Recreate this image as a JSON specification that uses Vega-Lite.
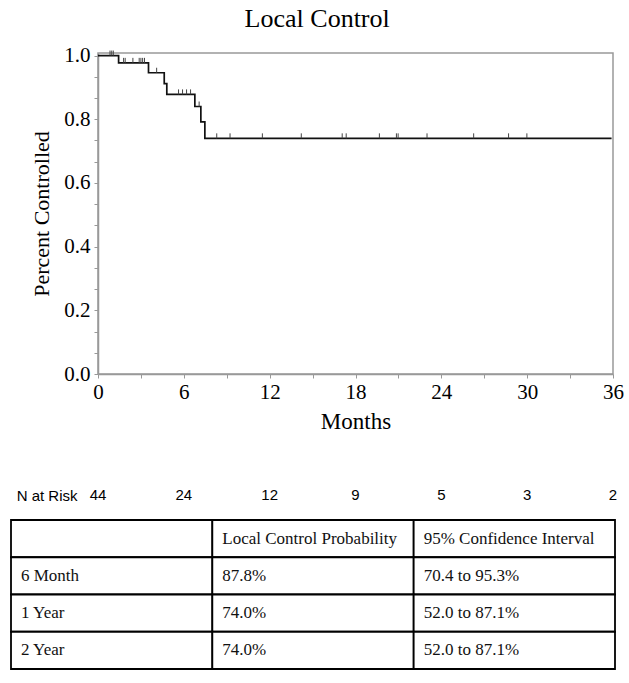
{
  "$schema": "https://vega.github.io/schema/vega-lite/v6.json",
  "padding": {"left": 10, "top": 5, "right": 5, "bottom": 5},
  "title": {"text": "Local Control", "font": "Liberation Serif", "fontSize": 26, "fontWeight": "normal", "color": "#000", "anchor": "middle", "frame": "bounds", "offset": 12},
  "config": {"view": {"stroke": null}, "font": "Liberation Serif", "axis": {"labelOverlap": false, "labelFlush": false}},
  "spacing": 16,
  "resolve": {"scale": {"x": "independent", "y": "independent"}},
  "datasets": {
    "km": [
      {"months": 0, "surv": 1.0},
      {"months": 1.44, "surv": 0.977},
      {"months": 3.53, "surv": 0.946},
      {"months": 4.63, "surv": 0.912},
      {"months": 4.81, "surv": 0.878},
      {"months": 6.77, "surv": 0.84},
      {"months": 7.19, "surv": 0.792},
      {"months": 7.47, "surv": 0.74},
      {"months": 35.9, "surv": 0.74}
    ],
    "censored": [
      {"months": 0.84, "surv": 1.0},
      {"months": 0.96, "surv": 1.0},
      {"months": 1.07, "surv": 1.0},
      {"months": 1.79, "surv": 0.977},
      {"months": 1.9, "surv": 0.977},
      {"months": 2.44, "surv": 0.977},
      {"months": 2.88, "surv": 0.977},
      {"months": 3.0, "surv": 0.977},
      {"months": 3.12, "surv": 0.977},
      {"months": 3.25, "surv": 0.977},
      {"months": 4.1, "surv": 0.946},
      {"months": 5.63, "surv": 0.878},
      {"months": 5.91, "surv": 0.878},
      {"months": 6.19, "surv": 0.878},
      {"months": 6.47, "surv": 0.878},
      {"months": 7.07, "surv": 0.84},
      {"months": 8.3, "surv": 0.74},
      {"months": 9.23, "surv": 0.74},
      {"months": 11.49, "surv": 0.74},
      {"months": 14.21, "surv": 0.74},
      {"months": 17.07, "surv": 0.74},
      {"months": 17.35, "surv": 0.74},
      {"months": 19.67, "surv": 0.74},
      {"months": 20.86, "surv": 0.74},
      {"months": 20.98, "surv": 0.74},
      {"months": 23.0, "surv": 0.74},
      {"months": 26.26, "surv": 0.74},
      {"months": 28.7, "surv": 0.74},
      {"months": 29.98, "surv": 0.74}
    ],
    "risk": [
      {"label": "N at Risk", "months": 0, "n": 44},
      {"label": "N at Risk", "months": 6, "n": 24},
      {"label": "N at Risk", "months": 12, "n": 12},
      {"label": "N at Risk", "months": 18, "n": 9},
      {"label": "N at Risk", "months": 24, "n": 5},
      {"label": "N at Risk", "months": 30, "n": 3},
      {"label": "N at Risk", "months": 36, "n": 2}
    ],
    "table": [
      {"row": "h", "col": "a", "text": ""},
      {"row": "h", "col": "b", "text": "Local Control Probability"},
      {"row": "h", "col": "c", "text": "95% Confidence Interval"},
      {"row": "m6", "col": "a", "text": "6 Month"},
      {"row": "m6", "col": "b", "text": "87.8%"},
      {"row": "m6", "col": "c", "text": "70.4 to 95.3%"},
      {"row": "y1", "col": "a", "text": "1 Year"},
      {"row": "y1", "col": "b", "text": "74.0%"},
      {"row": "y1", "col": "c", "text": "52.0 to 87.1%"},
      {"row": "y2", "col": "a", "text": "2 Year"},
      {"row": "y2", "col": "b", "text": "74.0%"},
      {"row": "y2", "col": "c", "text": "52.0 to 87.1%"}
    ]
  },
  "vconcat": [
    {
      "width": 515,
      "height": 321,
      "view": {"stroke": "#999", "strokeWidth": 1.5},
      "resolve": {"axis": {"y": "independent"}},
      "layer": [
        {
          "data": {"name": "km"},
          "mark": {"type": "line", "interpolate": "step-after", "color": "#111", "strokeWidth": 1.7},
          "encoding": {
            "x": {
              "field": "months", "type": "quantitative", "title": "Months",
              "scale": {"domain": [0, 36], "nice": false, "zero": false},
              "axis": {
                "values": [0, 1.5, 3, 4.5, 6, 7.5, 9, 10.5, 12, 13.5, 15, 16.5, 18, 19.5, 21, 22.5, 24, 25.5, 27, 28.5, 30, 31.5, 33, 34.5, 36],
                "labelExpr": "datum.value % 6 === 0 ? format(datum.value, 'd') : ''",
                "labelFlush": false, "labelOverlap": false, "grid": false,
                "domainColor": "#999", "domainWidth": 1.5, "tickColor": "#999", "tickSize": 4,
                "labelPadding": 3, "labelFont": "Liberation Serif", "labelFontSize": 21, "labelColor": "#000",
                "titleFont": "Liberation Serif", "titleFontSize": 23, "titleFontWeight": "normal", "titleColor": "#000", "titlePadding": 8
              }
            },
            "y": {
              "field": "surv", "type": "quantitative", "title": "Percent Controlled",
              "scale": {"domain": [0, 1.008], "nice": false},
              "axis": {
                "values": [0, 0.2, 0.4, 0.6, 0.8, 1.0],
                "format": ".1f",
                "labelFlush": false, "labelOverlap": false, "grid": false,
                "domainColor": "#999", "domainWidth": 1.5, "tickColor": "#999", "tickSize": 4,
                "labelPadding": 4, "labelFont": "Liberation Serif", "labelFontSize": 21, "labelColor": "#000",
                "titleFont": "Liberation Serif", "titleFontSize": 22, "titleFontWeight": "normal", "titleColor": "#000", "titlePadding": 10
              }
            }
          }
        },
        {
          "data": {"name": "censored"},
          "mark": {"type": "point", "shape": "M0,0L0,-1", "size": 100, "strokeWidth": 1, "color": "#444", "opacity": 1},
          "encoding": {
            "x": {"field": "months", "type": "quantitative", "title": "Months"},
            "y": {
              "field": "surv", "type": "quantitative",
              "axis": {
                "orient": "left", "title": null, "labels": false, "domain": false, "grid": false,
                "values": [0.0667, 0.1333, 0.2667, 0.3333, 0.4667, 0.5333, 0.6667, 0.7333, 0.8667, 0.9333],
                "tickColor": "#999", "tickSize": 4
              }
            }
          }
        }
      ]
    },
    {
      "width": 515,
      "height": 45,
      "data": {"name": "risk"},
      "mark": {"type": "text", "font": "Liberation Sans", "fontSize": 15, "color": "#000", "baseline": "middle", "align": "center"},
      "encoding": {
        "x": {"field": "months", "type": "quantitative", "scale": {"domain": [0, 36], "nice": false, "zero": false}, "axis": null},
        "y": {
          "field": "label", "type": "nominal",
          "scale": {"paddingInner": 0, "paddingOuter": 0.625, "align": 1},
          "axis": {"title": null, "domain": false, "ticks": false, "labelPadding": 21, "labelFont": "Liberation Sans", "labelFontSize": 15, "labelColor": "#000"}
        },
        "text": {"field": "n", "type": "quantitative"}
      }
    },
    {
      "width": 515,
      "height": 149,
      "data": {"name": "table"},
      "layer": [
        {
          "mark": {"type": "rect", "fill": "#fff", "stroke": "#000", "strokeWidth": 1.8},
          "encoding": {
            "x": {"field": "col", "type": "nominal", "sort": ["a", "b", "c"], "scale": {"range": [-87, 517], "paddingInner": 0, "paddingOuter": 0}, "axis": null},
            "y": {"field": "row", "type": "nominal", "sort": ["h", "m6", "y1", "y2"], "scale": {"paddingInner": 0, "paddingOuter": 0}, "axis": null}
          }
        },
        {
          "mark": {"type": "text", "align": "left", "baseline": "middle", "dx": 10, "font": "Liberation Serif", "fontSize": 17, "color": "#111"},
          "encoding": {
            "x": {"field": "col", "type": "nominal", "sort": ["a", "b", "c"], "bandPosition": 0, "axis": null},
            "y": {"field": "row", "type": "nominal", "sort": ["h", "m6", "y1", "y2"], "bandPosition": 0.5, "axis": null},
            "text": {"field": "text"}
          }
        }
      ]
    }
  ]
}
